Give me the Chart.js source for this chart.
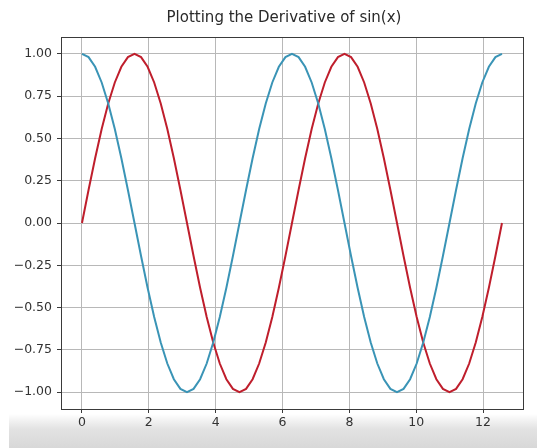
<!DOCTYPE html>
<html>
<head>
<meta charset="utf-8">
<script src="https://cdn.jsdelivr.net/npm/chart.js@4.4.1/dist/chart.umd.min.js"></script>
<style>
  html, body { margin: 0; padding: 0; background: #ffffff; }
  #wrap { width: 537px; height: 448px; position: relative; }
</style>
</head>
<body>
<div id="wrap"><canvas id="c" width="537" height="448"></canvas></div>
<script>
// Sample positions, 0 .. 4π in steps of π/16
const xs = [0, 0.196, 0.393, 0.589, 0.785, 0.982, 1.178, 1.374, 1.571, 1.767, 1.963, 2.160, 2.356, 2.553, 2.749, 2.945,
  3.142, 3.338, 3.534, 3.731, 3.927, 4.123, 4.320, 4.516, 4.712, 4.909, 5.105, 5.301, 5.498, 5.694, 5.890, 6.087,
  6.283, 6.480, 6.676, 6.872, 7.069, 7.265, 7.461, 7.658, 7.854, 8.050, 8.247, 8.443, 8.639, 8.836, 9.032, 9.228,
  9.425, 9.621, 9.817, 10.014, 10.210, 10.407, 10.603, 10.799, 10.996, 11.192, 11.388, 11.585, 11.781, 11.977, 12.174, 12.370,
  12.566];

// sin(x) — red curve
const sinValues = [0, 0.195, 0.383, 0.556, 0.707, 0.831, 0.924, 0.981, 1, 0.981, 0.924, 0.831, 0.707, 0.556, 0.383, 0.195,
  0, -0.195, -0.383, -0.556, -0.707, -0.831, -0.924, -0.981, -1, -0.981, -0.924, -0.831, -0.707, -0.556, -0.383, -0.195,
  0, 0.195, 0.383, 0.556, 0.707, 0.831, 0.924, 0.981, 1, 0.981, 0.924, 0.831, 0.707, 0.556, 0.383, 0.195,
  0, -0.195, -0.383, -0.556, -0.707, -0.831, -0.924, -0.981, -1, -0.981, -0.924, -0.831, -0.707, -0.556, -0.383, -0.195,
  0];

// cos(x), the derivative — blue curve
const cosValues = [1, 0.981, 0.924, 0.831, 0.707, 0.556, 0.383, 0.195, 0, -0.195, -0.383, -0.556, -0.707, -0.831, -0.924, -0.981,
  -1, -0.981, -0.924, -0.831, -0.707, -0.556, -0.383, -0.195, 0, 0.195, 0.383, 0.556, 0.707, 0.831, 0.924, 0.981,
  1, 0.981, 0.924, 0.831, 0.707, 0.556, 0.383, 0.195, 0, -0.195, -0.383, -0.556, -0.707, -0.831, -0.924, -0.981,
  -1, -0.981, -0.924, -0.831, -0.707, -0.556, -0.383, -0.195, 0, 0.195, 0.383, 0.556, 0.707, 0.831, 0.924, 0.981,
  1];

const xTicks = [0, 2, 4, 6, 8, 10, 12];
const yTicks = [-1.00, -0.75, -0.50, -0.25, 0.00, 0.25, 0.50, 0.75, 1.00];
const titleText = 'Plotting the Derivative of sin(x)';

const FONT = 'DejaVu Sans';

const pts = (ys) => xs.map((x, i) => ({ x: x, y: ys[i] }));

// Page backdrop with the grey band along the bottom, plus the axes frame and title
const decor = {
  id: 'decor',
  beforeDraw(chart) {
    const ctx = chart.ctx;
    ctx.save();
    ctx.fillStyle = '#ffffff';
    ctx.fillRect(0, 0, chart.width, chart.height);
    const g = ctx.createLinearGradient(0, 414, 0, 448);
    g.addColorStop(0, 'rgba(224,224,224,0)');
    g.addColorStop(0.45, 'rgba(226,226,226,1)');
    g.addColorStop(1, 'rgba(216,216,216,1)');
    ctx.fillStyle = g;
    ctx.fillRect(9, 414, chart.width - 9, 34);
    ctx.restore();
  },
  afterDraw(chart) {
    const ctx = chart.ctx;
    const a = chart.chartArea;
    ctx.save();
    ctx.strokeStyle = '#3a3a3a';
    ctx.lineWidth = 1;
    ctx.strokeRect(Math.round(a.left) + 0.5, Math.round(a.top) + 0.5,
      Math.round(a.right - a.left), Math.round(a.bottom - a.top));
    ctx.fillStyle = '#2a2a2a';
    ctx.font = '15px "' + FONT + '"';
    ctx.textAlign = 'center';
    ctx.textBaseline = 'middle';
    ctx.fillText(titleText, 284, 18);
    ctx.restore();
  }
};

const fmt = (v) => v.toFixed(2).replace('-', '\u2212');

new Chart(document.getElementById('c'), {
  type: 'line',
  data: {
    datasets: [
      { label: 'cos(x)', data: pts(cosValues), borderColor: '#3a94b6', borderWidth: 2,
        pointRadius: 0, tension: 0, fill: false },
      { label: 'sin(x)', data: pts(sinValues), borderColor: '#bf1e2c', borderWidth: 2,
        pointRadius: 0, tension: 0, fill: false }
    ]
  },
  options: {
    responsive: false,
    animation: false,
    layout: { padding: { left: 0, right: 14, top: 37, bottom: 0 } },
    plugins: {
      legend: { display: false },
      tooltip: { enabled: false },
      title: { display: false }
    },
    scales: {
      x: {
        type: 'linear',
        min: -0.628,
        max: 13.195,
        afterBuildTicks: (s) => { s.ticks = xTicks.map(v => ({ value: v })); },
        afterFit: (s) => { s.height = 39; },
        grid: { color: '#b8b8b8', lineWidth: 1, tickLength: 4, tickColor: '#3a3a3a', drawTicks: true },
        border: { display: false },
        ticks: { color: '#333333', font: { family: FONT, size: 12.5 }, padding: 2,
          maxRotation: 0, autoSkip: false, callback: (v) => String(v) }
      },
      y: {
        type: 'linear',
        min: -1.1,
        max: 1.1,
        afterBuildTicks: (s) => { s.ticks = yTicks.map(v => ({ value: v })); },
        afterFit: (s) => { s.width = 61; },
        grid: { color: '#b8b8b8', lineWidth: 1, tickLength: 4, tickColor: '#3a3a3a', drawTicks: true },
        border: { display: false },
        ticks: { color: '#333333', font: { family: FONT, size: 12.5 }, padding: 5,
          autoSkip: false, callback: (v) => fmt(v) }
      }
    }
  },
  plugins: [decor]
});
</script>
</body>
</html>
